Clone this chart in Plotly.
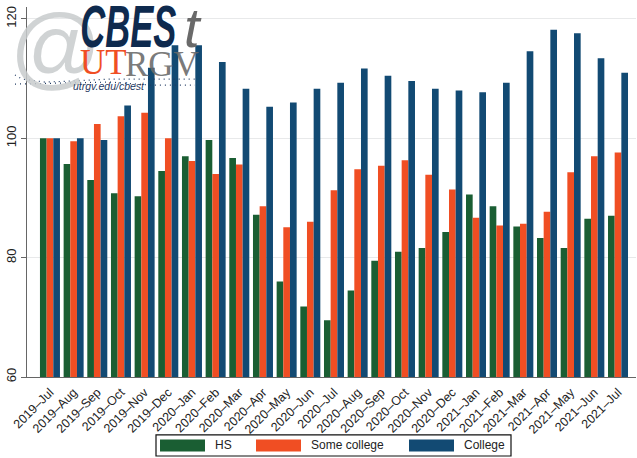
import plotly.graph_objects as go

months = ["2019–Jul","2019–Aug","2019–Sep","2019–Oct","2019–Nov","2019–Dec","2020–Jan","2020–Feb","2020–Mar",
          "2020–Apr","2020–May","2020–Jun","2020–Jul","2020–Aug","2020–Sep","2020–Oct","2020–Nov","2020–Dec",
          "2021–Jan","2021–Feb","2021–Mar","2021–Apr","2021–May","2021–Jun","2021–Jul"]
hs = [100,95.7,93,90.8,90.3,94.5,97,99.7,96.7,87.2,76,71.8,69.5,74.5,79.5,81,81.6,84.3,90.6,88.6,85.2,83.3,81.6,86.5,87]
some_college = [100,99.5,102.4,103.7,104.3,100,96.2,94,95.6,88.6,85.1,86,91.3,94.8,95.4,96.3,93.9,91.4,86.7,85.4,85.7,87.7,94.3,97,97.6]
college = [100,100,99.7,105.5,111.8,115.6,115.6,112.8,108.3,105.3,106,108.3,109.3,111.7,110.5,109.6,108.3,108,107.7,109.3,114.6,118.2,117.6,113.4,111]
series = [("HS", hs, "#1a5e33"), ("Some college", some_college, "#f04e23"), ("College", college, "#124a73")]
yticks = [60, 80, 100, 120]

W, H = 637, 458
L, R, T, B = 27, 636, 7, 376.6
def X(x): return (x - L) / (R - L)
def Y(y): return (B - y) / (B - T)

fig = go.Figure()
for name, vals, color in series:
    fig.add_bar(x=months, y=vals, name=name, marker=dict(color=color, line_width=0), showlegend=False)

shapes, ann = [], []
FONT = "Liberation Sans"
shapes.append(dict(type="rect", xref="paper", yref="paper", x0=X(156), x1=X(511), y0=Y(455.5), y1=Y(434.5),
                   line=dict(color="#111", width=1.2), fillcolor="white"))
for (name, vals, color), x0, tx in zip(series, (160, 256, 409), (213, 309, 462)):
    shapes.append(dict(type="rect", xref="paper", yref="paper", x0=X(x0), x1=X(x0 + 45), y0=Y(451), y1=Y(439),
                       line_width=0, fillcolor=color))
    ann.append(dict(text=name, xref="paper", yref="paper", x=X(tx), y=Y(445), xanchor="left", yanchor="middle",
                    showarrow=False, font=dict(family=FONT, size=12, color="#222")))
def logo(text, x, y, size, color, family=FONT, anchor="left"):
    ann.append(dict(text=text, xref="paper", yref="paper", x=X(x), y=Y(y), xanchor=anchor, yanchor="middle",
                    showarrow=False, font=dict(family=family, size=size, color=color)))
logo("@", 8, 47, 90, "rgba(200,203,205,0.85)")
logo("<b><i>CBES</i></b>", 128, 26, 60, "#0e2a4e", anchor="center")
logo("<i>t</i>", 182, 27, 56, "#6a6a6a")
logo("UT", 78, 62, 35, "#f04e23", family="Liberation Serif")
logo("RGV", 123, 64, 35, "rgba(105,105,105,0.9)", family="Liberation Serif")
logo("<i>utrgv.edu/cbest</i>", 71, 86, 10.5, "#1f3a62")
for pts in ([(15, 75), (22, 79), (45, 82), (70, 81), (110, 79), (195, 79)], [(15, 84), (60, 83), (110, 82), (150, 85), (195, 85)]):
    p = "M" + " L".join(f"{X(a)},{Y(b)}" for a, b in pts)
    shapes.append(dict(type="path", xref="paper", yref="paper", path=p,
                       line=dict(color="#1f3a62", width=1.2, dash="1px,4px")))

fig.update_layout(
    width=W, height=H, autosize=False, barmode="group", bargap=0.155, bargroupgap=0,
    paper_bgcolor="white", plot_bgcolor="white",
    margin=dict(l=L, r=W - R, t=T, b=H - B, pad=0),
    font=dict(family=FONT, size=12.5, color="#222"),
    shapes=shapes, annotations=ann, showlegend=False,
    xaxis=dict(type="category", range=[-0.97, 24.76], tickangle=-45, ticks="outside", ticklen=2, tickcolor="white",
               showgrid=False, showline=True, linecolor="#666", linewidth=1.3, tickfont=dict(size=12.5)),
    yaxis=dict(range=[60, 122], tickvals=yticks, tickangle=-90, ticks="outside", ticklen=5, tickcolor="#666",
               showgrid=True, gridcolor="#e8e9ea", gridwidth=1.4, zeroline=False,
               showline=True, linecolor="#666", linewidth=1.3, tickfont=dict(size=13)),
)
post = """
document.body.style.margin = '0';
document.querySelectorAll('.annotation-text').forEach(function (t) {
  if (t.textContent === 'CBES') { t.setAttribute('textLength', '96'); t.setAttribute('lengthAdjust', 'spacingAndGlyphs'); }
});
"""
fig.write_html("out.html", post_script=post, config={"displayModeBar": False})
